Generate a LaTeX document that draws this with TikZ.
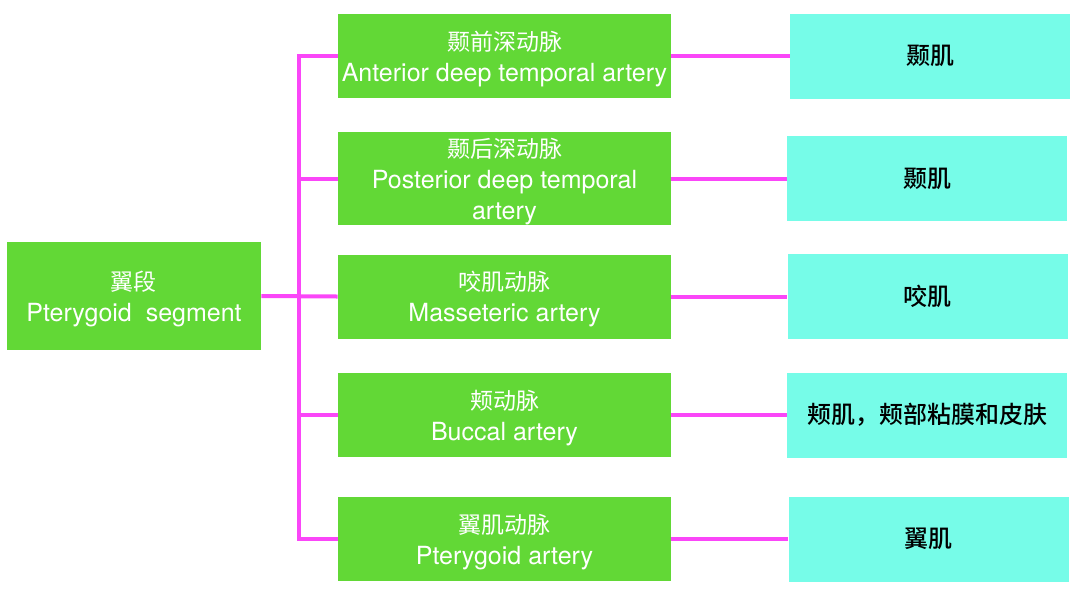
\documentclass[tikz,border=0pt]{standalone}
\usepackage{fontspec}
\setmainfont{TeX Gyre Heros}
\newfontfamily\cjk{Noto Sans CJK SC}
\newfontfamily\cjkmed{Noto Sans CJK SC}[UprightFont={* Medium}]
\usepackage{xcolor}
\usetikzlibrary{positioning}
\definecolor{leafgreen}{RGB}{98,216,54}
\definecolor{aqua}{RGB}{118,252,232}
\definecolor{pinkline}{RGB}{250,70,248}
\newcommand{\zh}[1]{{\cjk\fontsize{11.5}{15.5}\selectfont #1}}

\begin{document}
\begin{tikzpicture}[x=0.5pt,y=-0.5pt,
        box/.style={inner sep=0pt, align=center, text depth=-1.5pt,
                    font=\fontsize{12.5}{15.5}\selectfont},
        root/.style={box, fill=leafgreen, text=white, minimum width=127pt, minimum height=54pt},
        branch/.style={box, fill=leafgreen, text=white, minimum width=166.5pt, minimum height=42pt},
        target/.style={inner sep=0pt, fill=aqua, text=black, minimum width=140pt, minimum height=42.5pt,
                       font=\cjkmed\fontsize{12}{15}\selectfont},
        link/.style={draw=pinkline, line width=2pt}
    ]
        \useasboundingbox (0,0) rectangle (1080,590);

        \node[root] (seg) at (134,296) {\zh{翼段}\\Pterygoid\ \ segment};

        \node[branch] (adt) at (504.5,56) {\zh{颞前深动脉}\\Anterior deep temporal artery};
        \node[branch, minimum height=46.5pt] (pdt) at (504.5,178.5) {\zh{颞后深动脉}\\Posterior deep temporal\\artery};
        \node[branch] (mas) at (504.5,296.5) {\zh{咬肌动脉}\\Masseteric artery};
        \node[branch] (buc) at (504.5,415) {\zh{颊动脉}\\Buccal artery};
        \node[branch] (pty) at (504.5,539) {\zh{翼肌动脉}\\Pterygoid artery};

        \node[target] (t1) at (930,56) {颞肌};
        \node[target] (t2) at (927,178.5) {颞肌};
        \node[target] (t3) at (927.5,296.5) {咬肌};
        \node[target] (t4) at (927,415) {颊肌，颊部粘膜和皮肤};
        \node[target] (t5) at (928.5,539) {翼肌};

        \coordinate (bus) at (299,296);

        \draw[link] (seg.east) -- (mas.west);
        \draw[link] (adt.west) -| (bus); \draw[link] (pdt.west) -| (bus);
        \draw[link] (buc.west) -| (bus); \draw[link] (pty.west) -| (bus);

        \draw[link] (adt) -- (t1); \draw[link] (pdt) -- (t2);
        \draw[link] (mas) -- (t3); \draw[link] (buc) -- (t4);
        \draw[link] (pty) -- (t5);
    \end{tikzpicture}
\end{document}
